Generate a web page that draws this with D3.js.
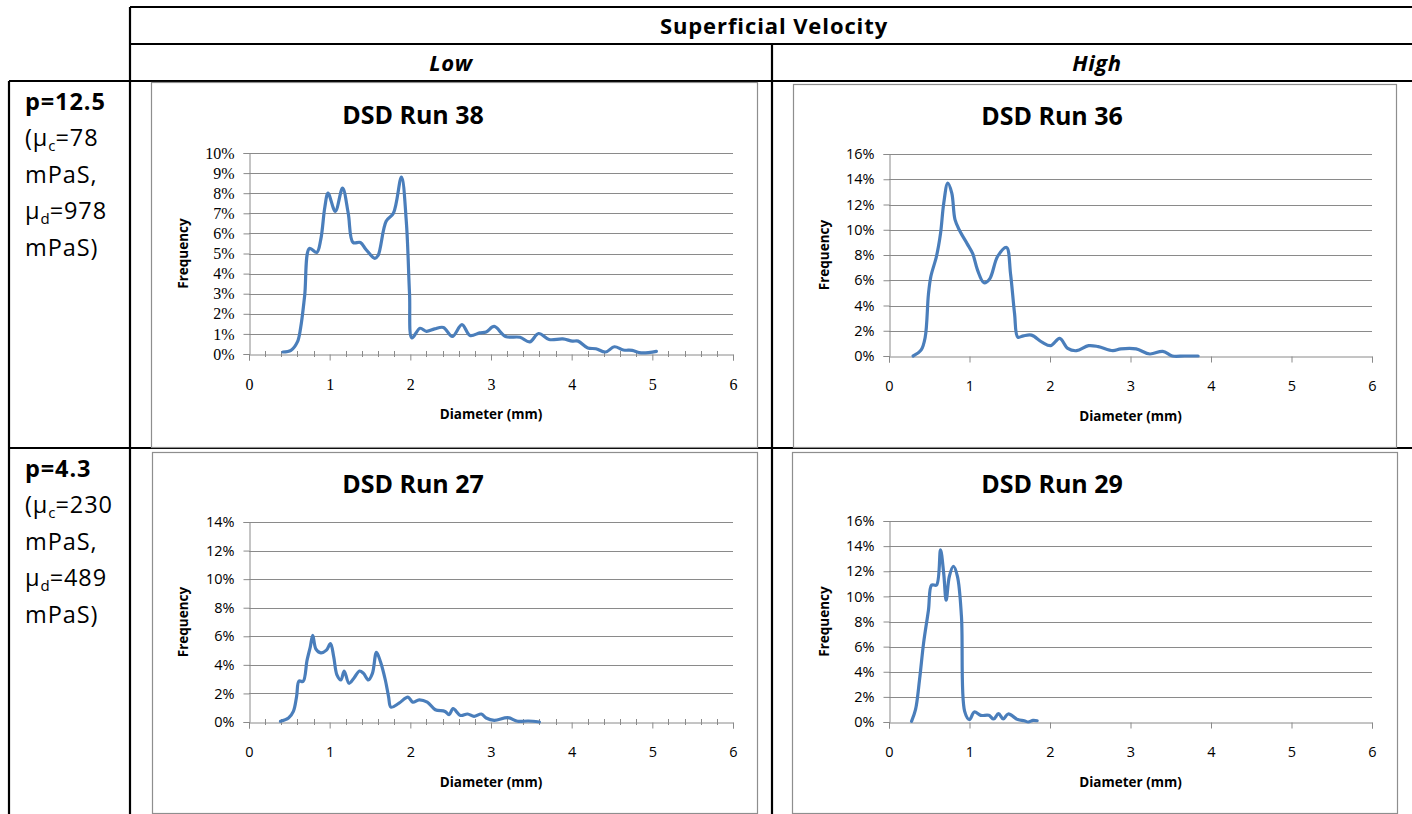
<!DOCTYPE html>
<html>
<head>
<meta charset="utf-8">
<script src="https://cdnjs.cloudflare.com/ajax/libs/d3/7.8.5/d3.min.js"></script>
<style>
  body { margin: 0; background: #fff; }
  svg { display: block; }
  .cell-line { stroke: #000; stroke-width: 2.2; }
  .frame { fill: #fff; stroke: #8e8e8e; stroke-width: 1.2; }
  .grid line { stroke: #8a8a8a; stroke-width: 1; }
  .axis path, .axis line { stroke: #8a8a8a; stroke-width: 1; }
  .axis text { fill: #000; }
</style>
</head>
<body>
<script>

// Run 38 (p=12.5, low velocity)
var run38Diam = [0.42,0.52,0.6,0.64,0.69,0.75,0.84,0.89,0.94,0.98,1.07,1.16,1.23,1.29,1.38,1.45,1.56,1.6,1.7,1.79,1.89,1.95,1.99,2.02,2.12,2.2,2.3,2.41,2.52,2.64,2.74,2.86,2.94,3.04,3.18,3.36,3.48,3.59,3.72,3.89,4.01,4.08,4.2,4.3,4.42,4.53,4.64,4.75,4.84,4.95,5.05];
var run38Freq = [0.1,0.18,0.6,1.3,2.9,5.25,5.05,5.7,7.3,8.0,7.1,8.25,7.0,5.55,5.55,5.2,4.76,4.9,6.6,7.0,8.8,6.6,3.0,0.8,1.28,1.13,1.25,1.32,0.87,1.46,0.92,1.05,1.1,1.37,0.87,0.83,0.6,1.02,0.72,0.75,0.64,0.64,0.3,0.26,0.1,0.36,0.2,0.18,0.07,0.07,0.13];

// Run 36 (p=12.5, high velocity)
var run36Diam = [0.3,0.4,0.45,0.49,0.52,0.59,0.64,0.68,0.73,0.78,0.82,0.88,0.97,1.04,1.1,1.18,1.25,1.35,1.46,1.51,1.56,1.6,1.67,1.77,1.9,2.01,2.12,2.22,2.33,2.48,2.6,2.78,2.88,3.07,3.24,3.4,3.52,3.67,3.84];
var run36Freq = [0,0.48,1.5,4.9,6.3,7.9,9.7,12.1,13.7,12.9,10.8,9.9,8.9,8.1,6.8,5.8,6.1,7.9,8.6,6.5,3.35,1.5,1.6,1.65,1.1,0.82,1.4,0.6,0.42,0.82,0.74,0.42,0.56,0.56,0.16,0.37,0,0,0];

// Run 27 (p=4.3, low velocity)
var run27Diam = [0.39,0.49,0.55,0.59,0.62,0.67,0.72,0.76,0.79,0.83,0.89,0.96,1.01,1.05,1.09,1.14,1.18,1.24,1.3,1.37,1.42,1.48,1.53,1.58,1.63,1.69,1.73,1.76,1.86,1.97,2.03,2.11,2.21,2.31,2.43,2.48,2.53,2.62,2.71,2.79,2.88,2.94,3.04,3.21,3.33,3.46,3.6];
var run27Freq = [0.05,0.28,0.74,1.78,2.87,2.83,4.33,5.26,6.07,5.1,4.84,5.03,5.49,4.57,3.3,2.94,3.57,2.71,3.06,3.57,3.4,2.94,3.4,4.87,4.22,2.94,1.78,1.04,1.32,1.74,1.39,1.55,1.39,0.86,0.74,0.51,0.93,0.46,0.56,0.39,0.56,0.28,0.12,0.3,0.05,0.07,0];

// Run 29 (p=4.3, high velocity)
var run29Diam = [0.28,0.33,0.38,0.43,0.49,0.53,0.59,0.64,0.68,0.71,0.75,0.8,0.85,0.9,0.94,1.0,1.06,1.14,1.24,1.3,1.36,1.42,1.48,1.6,1.68,1.73,1.79,1.84];
var run29Freq = [0.05,1.0,3.4,6.3,8.9,10.9,10.9,13.7,11.8,9.7,11.6,12.4,11.6,8.4,0.85,0.19,0.8,0.53,0.53,0.24,0.66,0.24,0.64,0.19,0.1,0,0.13,0.1];

var chartTitles = ["DSD Run 38", "DSD Run 36", "DSD Run 27", "DSD Run 29"];
var yMaxima = [10, 16, 14, 16];
var yStepSizes = [1, 2, 2, 2];
var xTickValues = [0, 1, 2, 3, 4, 5, 6];

var headerTitle = "Superficial Velocity";
var columnLabels = ["Low", "High"];
var rowLabels = [
  ["p=12.5", "78", "978"],
  ["p=4.3", "230", "489"]
];

// panel placement on the page
var panels = [
  { frame: [151, 82, 757, 447], px: [249, 733], py: [354, 153], minor: true, serif: true, tx: 413, ty: 124, fx: 183 },
  { frame: [793, 84, 1396, 447], px: [889, 1372], py: [356, 154], minor: false, serif: false, tx: 1052, ty: 125, fx: 824 },
  { frame: [152, 452, 757, 813], px: [249, 733], py: [722, 522], minor: true, serif: false, tx: 413, ty: 493, fx: 183 },
  { frame: [792, 452, 1397, 813], px: [889, 1372], py: [722, 521], minor: false, serif: false, tx: 1052, ty: 493, fx: 824 }
];
var series = [
  [run38Diam, run38Freq],
  [run36Diam, run36Freq],
  [run27Diam, run27Freq],
  [run29Diam, run29Freq]
];

var width = 1412, height = 814;
var sans = "'Open Sans', 'Noto Sans', sans-serif";
var serif = "'Liberation Serif', 'DejaVu Serif', serif";

var svg = d3.select("body").append("svg")
    .attr("width", width)
    .attr("height", height);

svg.append("rect").attr("width", width).attr("height", height).attr("fill", "#fff");

// table lines
var tableLines = [
  [130, 7, 1420, 7], [130, 44, 1420, 44], [9, 81, 1420, 81], [9, 448, 1420, 448],
  [130, 7, 130, 820], [9, 81, 9, 820], [772, 44, 772, 820]
];
svg.selectAll(".cell-line").data(tableLines).enter().append("line")
    .attr("class", "cell-line")
    .attr("x1", function(d) { return d[0]; })
    .attr("y1", function(d) { return d[1]; })
    .attr("x2", function(d) { return d[2]; })
    .attr("y2", function(d) { return d[3]; });

svg.append("text")
    .attr("x", 774).attr("y", 34)
    .attr("text-anchor", "middle")
    .style("font-family", sans).style("font-weight", "bold")
    .style("font-size", "22px").style("letter-spacing", "0.9px")
    .text(headerTitle);

svg.selectAll(".col-label").data(columnLabels).enter().append("text")
    .attr("class", "col-label")
    .attr("x", function(d, i) { return i == 0 ? 451 : 1097; })
    .attr("y", 71)
    .attr("text-anchor", "middle")
    .style("font-family", sans).style("font-weight", "bold").style("font-style", "italic")
    .style("font-size", "22px").style("letter-spacing", "0.6px")
    .text(function(d) { return d; });

// row labels with viscosities
rowLabels.forEach(function(r, i) {
  var base = i == 0 ? 110 : 477, lh = 36.4;
  var g = svg.append("g")
      .style("font-family", sans).style("font-size", "23.5px").style("letter-spacing", "0.9px");

  g.append("text").attr("x", 25).attr("y", base).style("font-weight", "bold").text(r[0]);

  var t1 = g.append("text").attr("x", 25).attr("y", base + lh);
  t1.append("tspan").text("(\u03bc");
  t1.append("tspan").attr("dy", 5).style("font-size", "15px").style("letter-spacing", "0").text("c");
  t1.append("tspan").attr("dy", -5).text("=" + r[1]);

  g.append("text").attr("x", 25).attr("y", base + lh * 2).text("mPaS,");

  var t2 = g.append("text").attr("x", 25).attr("y", base + lh * 3);
  t2.append("tspan").text("\u03bc");
  t2.append("tspan").attr("dy", 5).style("font-size", "15px").style("letter-spacing", "0").text("d");
  t2.append("tspan").attr("dy", -5).text("=" + r[2]);

  g.append("text").attr("x", 25).attr("y", base + lh * 4).text("mPaS)");
});

// the four DSD charts
panels.forEach(function(p, i) {
  var g = svg.append("g");
  var f = p.frame;

  g.append("rect").attr("class", "frame")
      .attr("x", f[0] + 0.5).attr("y", f[1] + 0.5)
      .attr("width", f[2] - f[0]).attr("height", f[3] - f[1]);

  var x = d3.scaleLinear().domain([0, 6]).range(p.px);
  var y = d3.scaleLinear().domain([0, yMaxima[i]]).range(p.py);
  var yTicks = d3.range(0, yMaxima[i] + yStepSizes[i] / 2, yStepSizes[i]);
  var tickFont = p.serif ? serif : sans;
  var tickSize = p.serif ? 16 : 14.5;

  g.append("text")
      .attr("x", p.tx).attr("y", p.ty)
      .attr("text-anchor", "middle")
      .style("font-family", sans).style("font-weight", "bold").style("font-size", "25px")
      .text(chartTitles[i]);

  // gridlines
  g.append("g").attr("class", "grid")
      .selectAll("line").data(yTicks.slice(1)).enter().append("line")
      .attr("x1", p.px[0]).attr("x2", p.px[1])
      .attr("y1", function(d) { return Math.round(y(d)) + 0.5; })
      .attr("y2", function(d) { return Math.round(y(d)) + 0.5; });

  var yAxis = g.append("g").attr("class", "axis")
      .attr("transform", "translate(" + (p.px[0] + 0.5) + ",0)")
      .call(d3.axisLeft(y).tickValues(yTicks).tickSize(6).tickPadding(9)
        .tickFormat(function(d) { return d + "%"; }));
  yAxis.attr("font-family", tickFont).attr("font-size", tickSize);

  if (p.minor) {
    var minorTicks = d3.range(0.2, 6, 0.2).filter(function(d) { return Math.abs(d - Math.round(d)) > 0.01; });
    g.append("g").attr("class", "grid")
        .selectAll("line").data(minorTicks).enter().append("line")
        .attr("x1", function(d) { return Math.round(x(d)) + 0.5; })
        .attr("x2", function(d) { return Math.round(x(d)) + 0.5; })
        .attr("y1", p.py[0] - 3).attr("y2", p.py[0] + 3);
  }

  var xAxis = g.append("g").attr("class", "axis")
      .attr("transform", "translate(0," + (Math.round(p.py[0]) + 0.5) + ")")
      .call(d3.axisBottom(x).tickValues(xTickValues).tickSize(6).tickPadding(18)
        .tickFormat(d3.format("d")));
  xAxis.attr("font-family", tickFont).attr("font-size", tickSize);

  g.append("text")
      .attr("x", (p.px[0] + p.px[1]) / 2).attr("y", p.py[0] + 65)
      .attr("text-anchor", "middle")
      .style("font-family", sans).style("font-weight", "bold").style("font-size", "13.5px")
      .text("Diameter (mm)");

  g.append("text")
      .attr("transform", "translate(" + p.fx + "," + (p.py[0] + p.py[1]) / 2 + ") rotate(-90)")
      .attr("text-anchor", "middle")
      .attr("dy", "0.35em")
      .style("font-family", sans).style("font-weight", "bold").style("font-size", "13.5px")
      .text("Frequency");

  var pts = series[i][0].map(function(d, k) { return [d, series[i][1][k]]; });
  var line = d3.line()
      .x(function(d) { return x(d[0]); })
      .y(function(d) { return y(d[1]); })
      .curve(d3.curveCatmullRom.alpha(0.5));

  g.append("path")
      .datum(pts)
      .attr("d", line)
      .attr("fill", "none")
      .attr("stroke", "#4a7ebb")
      .attr("stroke-width", 3.2)
      .attr("stroke-linejoin", "round")
      .attr("stroke-linecap", "round");
});

</script>
</body>
</html>
